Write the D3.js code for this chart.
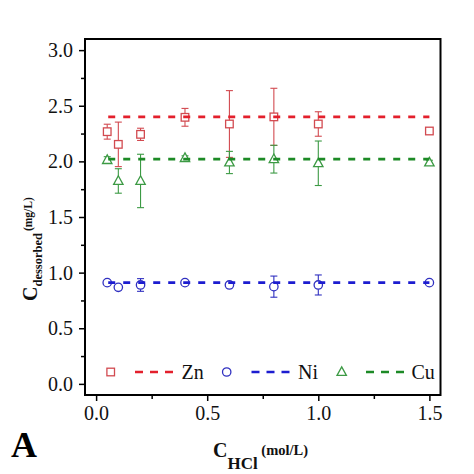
<!DOCTYPE html>
<html>
<head>
<meta charset="utf-8">
<script src="https://cdn.jsdelivr.net/npm/d3@7"></script>
<style>
  html, body { margin: 0; padding: 0; background: #fff; }
  svg { display: block; }
  svg text { font-family: "Liberation Serif", "Times New Roman", Times, serif; }
</style>
</head>
<body>
<svg id="chart" width="474" height="474" font-family="Liberation Serif, serif"></svg>
<script>
// ---- data ----
const hclConc = [0.05, 0.1, 0.2, 0.4, 0.6, 0.8, 1.0, 1.5];
const znValues = [2.267, 2.153, 2.243, 2.396, 2.336, 2.400, 2.336, 2.273];
const znErrors = [0.067, 0.20, 0.055, 0.08, 0.30, 0.257, 0.11, 0.02];
const niValues = [0.910, 0.868, 0.889, 0.910, 0.889, 0.874, 0.889, 0.910];
const niErrors = [0.0, 0.0, 0.057, 0.0, 0.0, 0.095, 0.09, 0.0];
const cuValues = [2.012, 1.824, 1.824, 2.030, 1.990, 2.020, 1.983, 1.990];
const cuErrors = [0.03, 0.11, 0.24, 0.02, 0.10, 0.125, 0.20, 0.02];
const meanValues = { Zn: 2.40, Ni: 0.91, Cu: 2.02 };
const seriesNames = ["Zn", "Ni", "Cu"];
const xTicks = [0, 0.5, 1.0, 1.5];
const xMinorTicks = [0.25, 0.75, 1.25];
const yTicks = [0, 0.5, 1.0, 1.5, 2.0, 2.5, 3.0];
const yMinorTicks = [0.25, 0.75, 1.25, 1.75, 2.25, 2.75];

const styles = {
  Zn: { line: "#e3202c", mark: "#d24a50", shape: "square" },
  Ni: { line: "#1c1cd0", mark: "#3030c0", shape: "circle" },
  Cu: { line: "#1d8a26", mark: "#3c9a44", shape: "triangle" }
};
const seriesData = {
  Zn: hclConc.map((x, i) => ({ x, y: znValues[i], e: znErrors[i] })),
  Ni: hclConc.map((x, i) => ({ x, y: niValues[i], e: niErrors[i] })),
  Cu: hclConc.map((x, i) => ({ x, y: cuValues[i], e: cuErrors[i] }))
};

const FONT = '"Liberation Serif", "Times New Roman", serif';
const svg = d3.select("#chart");
const L = 85, R = 440.5, T = 39, B = 395;
const x = d3.scaleLinear().domain([-0.05, 1.55]).range([L, R]);
const y = d3.scaleLinear().domain([-0.1, 3.1]).range([B, T]);

// axes
const fmt = d3.format(".1f");
const xAxis = svg.append("g").attr("transform", `translate(0,${B})`)
  .call(d3.axisBottom(x).tickValues(xTicks).tickFormat(fmt).tickSize(6).tickPadding(5));
const xMinor = svg.append("g").attr("transform", `translate(0,${B})`)
  .call(d3.axisBottom(x).tickValues(xMinorTicks).tickFormat("").tickSize(4));
const yAxis = svg.append("g").attr("transform", `translate(${L},0)`)
  .call(d3.axisLeft(y).tickValues(yTicks).tickFormat(fmt).tickSize(6).tickPadding(6));
const yMinor = svg.append("g").attr("transform", `translate(${L},0)`)
  .call(d3.axisLeft(y).tickValues(yMinorTicks).tickFormat("").tickSize(4));
[xAxis, xMinor, yAxis, yMinor].forEach(g => {
  g.attr("font-family", FONT);
  g.select(".domain").remove();
  g.selectAll(".tick line").attr("stroke", "#000").attr("stroke-width", 1.5);
  g.selectAll("text").attr("font-size", 20).attr("fill", "#111")
    .style("font-family", FONT);
});

// frame
svg.append("rect").attr("x", L).attr("y", T).attr("width", R - L).attr("height", B - T)
  .attr("fill", "none").attr("stroke", "#000").attr("stroke-width", 2);

// symbols
function drawSymbol(g, shape, cx, cy, color) {
  if (shape === "square") {
    g.append("rect").attr("x", cx - 3.8).attr("y", cy - 3.8).attr("width", 7.6).attr("height", 7.6)
      .attr("fill", "#fff").attr("stroke", color).attr("stroke-width", 1.3);
  } else if (shape === "circle") {
    g.append("circle").attr("cx", cx).attr("cy", cy).attr("r", 4.2)
      .attr("fill", "#fff").attr("stroke", color).attr("stroke-width", 1.3);
  } else {
    const h = 8.6, w = 9.4;
    g.append("path")
      .attr("d", `M${cx},${cy - h * 0.6}L${cx + w / 2},${cy + h * 0.4}L${cx - w / 2},${cy + h * 0.4}Z`)
      .attr("fill", "#fff").attr("stroke", color).attr("stroke-width", 1.3);
  }
}

// error bars + markers
const plot = svg.append("g");
seriesNames.forEach(name => {
  const st = styles[name];
  const g = plot.append("g");
  seriesData[name].forEach(d => {
    if (d.e > 0) {
      const cx = x(d.x), y1 = y(d.y + d.e), y2 = y(d.y - d.e);
      g.append("line").attr("x1", cx).attr("x2", cx).attr("y1", y1).attr("y2", y2)
        .attr("stroke", st.mark).attr("stroke-width", 1.1);
      [y1, y2].forEach(yy => g.append("line").attr("x1", cx - 3.5).attr("x2", cx + 3.5)
        .attr("y1", yy).attr("y2", yy).attr("stroke", st.mark).attr("stroke-width", 1.1));
    }
  });
});
seriesNames.forEach(name => {
  const st = styles[name];
  const g = plot.append("g");
  seriesData[name].forEach(d => drawSymbol(g, st.shape, x(d.x), y(d.y), st.mark));
});

// mean dashed lines
seriesNames.forEach(name => {
  plot.append("line")
    .attr("x1", x(hclConc[0])).attr("x2", x(hclConc[hclConc.length - 1]))
    .attr("y1", y(meanValues[name])).attr("y2", y(meanValues[name]))
    .attr("stroke", styles[name].line).attr("stroke-width", 2.6)
    .attr("stroke-dasharray", "7,8").attr("stroke-dashoffset", -1);
});

// legend
const legY = 372;
const legendPos = {
  Zn: { sym: 110.7, l1: 135, l2: 173, tx: 181.5 },
  Ni: { sym: 226.7, l1: 251.5, l2: 290, tx: 298 },
  Cu: { sym: 341.7, l1: 366, l2: 404, tx: 411.5 }
};
seriesNames.forEach(name => {
  const p = legendPos[name], st = styles[name];
  const g = svg.append("g");
  drawSymbol(g, st.shape, p.sym, legY, st.mark);
  g.append("line").attr("x1", p.l1).attr("x2", p.l2).attr("y1", legY).attr("y2", legY)
    .attr("stroke", st.line).attr("stroke-width", 2.6).attr("stroke-dasharray", "8,7");
  g.append("text").attr("x", p.tx).attr("y", legY + 7).attr("font-size", 20).attr("fill", "#111")
    .style("font-family", FONT).text(name);
});

// y label
const yl = svg.append("text").attr("transform", "translate(37,301) rotate(-90)")
  .attr("font-weight", "bold").attr("fill", "#111").style("font-family", FONT);
yl.append("tspan").attr("font-size", 20).text("C");
yl.append("tspan").attr("font-size", 12.5).attr("dy", 5).text("dessorbed");
yl.append("tspan").attr("font-size", 11.5).attr("dx", 2).attr("dy", -10).text("(mg/L)");

// x label
const xl = svg.append("text").attr("x", 213).attr("y", 457)
  .attr("font-weight", "bold").attr("fill", "#111").style("font-family", FONT);
xl.append("tspan").attr("font-size", 20).text("C");
xl.append("tspan").attr("font-size", 17).attr("dy", 12).text("HCl");
xl.append("tspan").attr("font-size", 14.5).attr("dy", -14).text(" (mol/L)");

// panel letter
svg.append("text").attr("x", 11).attr("y", 457).attr("font-size", 36)
  .attr("font-weight", "bold").attr("fill", "#000").style("font-family", FONT).text("A");
</script>
</body>
</html>
